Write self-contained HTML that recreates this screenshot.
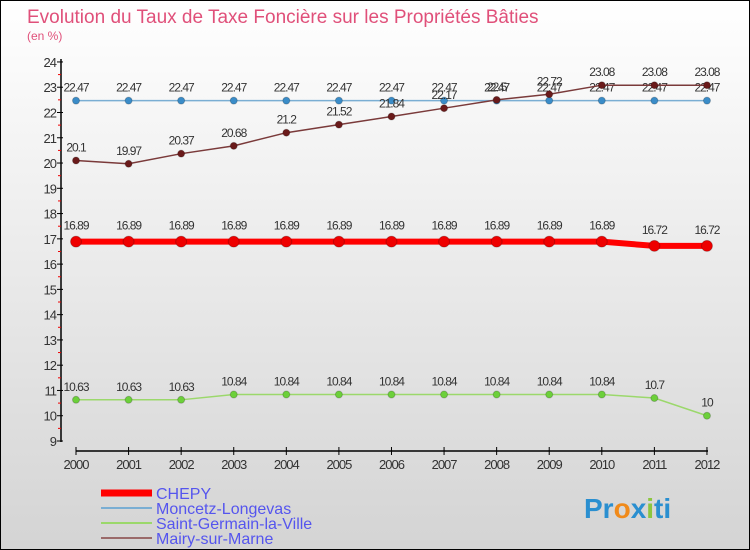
<!DOCTYPE html>
<html><head><meta charset="utf-8"><style>
body{margin:0}
#c{width:748px;height:548px;border:1px solid #000;background:linear-gradient(#fff,#d4d4d4);position:relative;font-family:"Liberation Sans",sans-serif;overflow:hidden}
</style></head><body>
<div id="c">
<svg id="s" width="748" height="548" style="position:absolute;left:0;top:0">
<text x="26" y="22" font-size="19" fill="#e0507a">Evolution du Taux de Taxe Foncière sur les Propriétés Bâties</text>
<text x="26" y="39" font-size="12" fill="#e0507a">(en %)</text>
<text x="583" y="517" font-size="28" font-weight="bold" fill="#2a8fd0">Pr<tspan fill="#f08a1a">o</tspan>x<tspan fill="#8cc63f">i</tspan>ti</text>
</svg>
</div>
<script>
const years=[2000,2001,2002,2003,2004,2005,2006,2007,2008,2009,2010,2011,2012];
const chepy=[16.89,16.89,16.89,16.89,16.89,16.89,16.89,16.89,16.89,16.89,16.89,16.72,16.72];
const moncetz=[22.47,22.47,22.47,22.47,22.47,22.47,22.47,22.47,22.47,22.47,22.47,22.47,22.47];
const stgermain=[10.63,10.63,10.63,10.84,10.84,10.84,10.84,10.84,10.84,10.84,10.84,10.7,10];
const mairy=[20.1,19.97,20.37,20.68,21.2,21.52,21.84,22.17,22.5,22.72,23.08,23.08,23.08];
const yTicks=[9,10,11,12,13,14,15,16,17,18,19,20,21,22,23,24];
const NS="http://www.w3.org/2000/svg",s=document.getElementById('s');
const X=i=>75+i*52.58, Y=v=>440-(v-9)*25.27;
function mk(t,a,p){const e=document.createElementNS(NS,t);for(const k in a)e.setAttribute(k,a[k]);(p||s).appendChild(e);return e;}
let e=mk('line',{x1:60,y1:58,x2:60,y2:441,stroke:'#000','stroke-width':1.5});


e=mk('line',{x1:75,y1:450,x2:707,y2:450,stroke:'#000','stroke-width':1.5});


yTicks.forEach(v=>{const y=Y(v);
mk('line',{x1:56,y1:y,x2:62,y2:y,stroke:'#000'});
if(v<24)mk('line',{x1:57,y1:Y(v+0.5),x2:60,y2:Y(v+0.5),stroke:'#e00'});
const t=mk('text',{x:55,y:y+5,'font-size':13,'text-anchor':'end',fill:'#333','letter-spacing':'-1'});t.textContent=v;

});
years.forEach((yr,i)=>{mk('line',{x1:X(i),y1:446,x2:X(i),y2:454,stroke:'#000'});
const t=mk('text',{x:X(i),y:468,'font-size':13,'text-anchor':'middle',fill:'#333','letter-spacing':'-1'});t.textContent=yr;

});
function series(d,col,w,r,dot,name,lblOff){
const g=mk('g',{});


mk('polyline',{points:d.map((v,i)=>X(i)+','+Y(v)).join(' '),fill:'none',stroke:col,'stroke-width':w},g);
d.forEach((v,i)=>{const c=mk('circle',{cx:X(i),cy:Y(v),r:r,fill:dot,stroke:'#0003'},g);


const t=mk('text',{x:X(i),y:Y(v)+lblOff,'font-size':12,'text-anchor':'middle',fill:'#333','letter-spacing':'-1'},g);t.textContent=v;});}
series(moncetz,'#7aaed3',1.5,3.5,'#3a8cc8','moncetz-series',-9);
series(mairy,'#7a3a3a',1.5,3.5,'#6a1a1a','mairy-series',-9);
series(stgermain,'#9bd86b',1.5,3.5,'#6cd03a','saint-germain-series',-9);
series(chepy,'#f00',6,5.5,'#e00','chepy-series',-12);
const leg=[['CHEPY','#f00',7],['Moncetz-Longevas','#7aaed3',2],['Saint-Germain-la-Ville','#9bd86b',2],['Mairy-sur-Marne','#9a6a6a',2]];
leg.forEach((l,i)=>{const y=492+i*15;const g=mk('g',{});


mk('line',{x1:100,y1:y,x2:151,y2:y,stroke:l[1],'stroke-width':l[2]},g);
const t=mk('text',{x:155,y:y+6,'font-size':16,fill:'#5555ee'},g);t.textContent=l[0];});
</script>
</body></html>
